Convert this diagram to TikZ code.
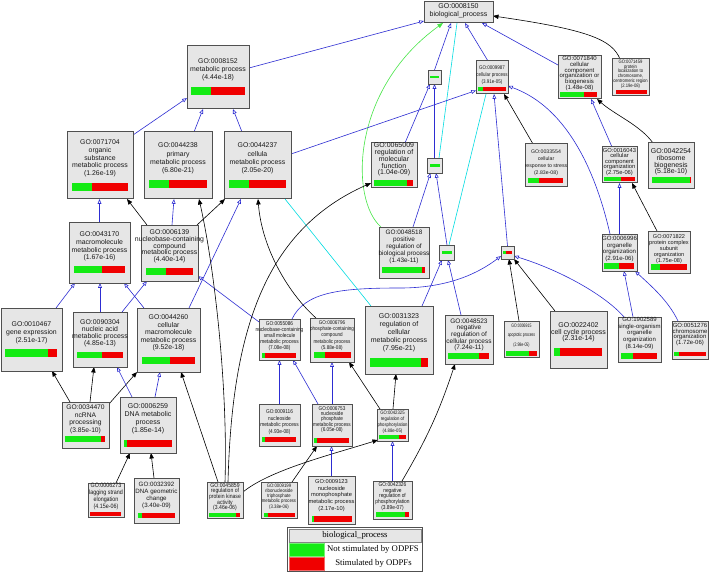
\documentclass[tikz,border=0pt]{standalone}
\usepackage{fontspec}
\setmainfont{Liberation Sans}
\newfontfamily\legfont{Liberation Serif}
\newfontfamily\narrowfont[FakeStretch=0.85]{Liberation Sans}
\newfontfamily\vnarrowfont[FakeStretch=0.7]{Liberation Sans}
\newcommand\rf[2]{\fontsize{#1}{#2}\selectfont}
\newcommand\nf[2]{\narrowfont\fontsize{#1}{#2}\selectfont}
\newcommand\vf[2]{\vnarrowfont\fontsize{#1}{#2}\selectfont}
\usetikzlibrary{arrows.meta}
\definecolor{boxfill}{RGB}{230,230,230}
\definecolor{boxline}{RGB}{80,80,80}
\definecolor{gogreen}{RGB}{20,235,20}
\definecolor{gored}{RGB}{240,0,0}
\definecolor{edgeblue}{RGB}{45,45,210}
\definecolor{edgecyan}{RGB}{0,220,225}
\definecolor{edgegreen}{RGB}{70,230,70}
\pgfdeclarelayer{background}
\pgfsetlayers{background,main}
\tikzset{
  gobox/.style={draw=boxline, fill=boxfill, line width=1pt, inner sep=0pt, outer sep=0pt},
  smallbox/.style={draw=boxline, fill=boxfill, line width=0.8pt, inner sep=0pt, outer sep=0pt},
  gotext/.style={inner sep=0pt, align=center, text=black!90},
  isa/.style={draw=edgeblue, line width=0.6pt, -{Triangle[length=4.8pt,width=3.8pt,fill=white,line width=0.6pt]}},
  blk/.style={draw=black, line width=0.6pt, -{Triangle[length=5.5pt,width=4.4pt]}},
  cya/.style={draw=edgecyan, line width=0.6pt},
  grn/.style={draw=edgegreen, line width=0.6pt, -{Triangle[length=5.5pt,width=4.4pt]}},
  legtext/.style={inner sep=0pt, font=\legfont\fontsize{8.7}{10}\selectfont, text=black}
}
% name, x1, y1, x2, y2, font, text centre y, text
\newcommand\gonode[8]{%
  \node[gobox, minimum width={(#4)-(#2)}, minimum height={(#5)-(#3)}] (#1) at ({((#2)+(#4))/2},{((#3)+(#5))/2}) {};
  \node[gotext, font={#6}] (#1-t) at ({((#2)+(#4))/2},#7) {#8};
}
\newcommand\gobar[5]{%
  \fill[gogreen] (#1,#2) rectangle ({(#1)+(#5)*((#3)-(#1))},#4);
  \fill[gored] ({(#1)+(#5)*((#3)-(#1))},#2) rectangle (#3,#4);
}
\begin{document}
\begin{tikzpicture}[x=1pt,y=-1pt]
\useasboundingbox (0,0) rectangle (709,572);
\begin{pgfonlayer}{background}
\fill[white] (0,0) rectangle (709,572);
\end{pgfonlayer}

% ---------- GO term boxes ----------
\gonode{n8150}{424}{2}{493}{23}{\rf{7}{8}}{11}{GO:0008150\\biological\_process}

\gonode{n8152}{187}{46}{249}{109}{\rf{6.9}{8}}{70}{GO:0008152\\metabolic process\\(4.44e-18)}
\gobar{191}{87}{245}{95}{0.37}

\gonode{n71704}{67}{132}{133}{199}{\rf{6.9}{7.8}}{158.5}{GO:0071704\\organic\\substance\\metabolic process\\(1.26e-19)}
\gobar{72}{183}{128}{191}{0.36}

\gonode{n44238}{144}{132}{212}{199}{\rf{6.9}{8.3}}{158.5}{GO:0044238\\primary\\metabolic process\\(6.80e-21)}
\gobar{149}{180}{207}{188}{0.34}

\gonode{n44237}{224}{132}{291}{199}{\rf{6.9}{8.3}}{158.5}{GO:0044237\\cellula\\metabolic process\\(2.05e-20)}
\gobar{229}{180}{286}{188}{0.35}

\gonode{n43170}{69}{222}{130}{283}{\rf{6.9}{7.7}}{246.5}{GO:0043170\\macromolecule\\metabolic process\\(1.67e-16)}
\gobar{74}{266}{125}{273}{0.55}

\gonode{n6139}{141}{225}{198}{281}{\rf{6.9}{6.8}}{246.5}{GO:0006139\\nucleobase-containing\\compound\\metabolic process\\(4.40e-14)}
\gobar{146}{268}{193}{275}{0.43}

\gonode{n10467}{1}{308}{62}{371}{\rf{6.9}{8}}{333}{GO:0010467\\gene expression\\(2.51e-17)}
\gobar{5}{349}{57}{357}{0.83}

\gonode{n90304}{73}{312}{127}{367}{\rf{6.9}{7}}{333.5}{GO:0090304\\nucleic acid\\metabolic process\\(4.85e-13)}
\gobar{77}{352}{123}{358}{0.54}

\gonode{n44260}{137}{308}{200}{372}{\rf{6.9}{7.5}}{333}{GO:0044260\\cellular\\macromolecule\\metabolic process\\(9.52e-18)}
\gobar{142}{357}{195}{364}{0.53}

\gonode{n55086}{259}{319}{300}{360}{\nf{5.6}{6}}{336}{GO:0055086\\nucleobase-containing\\small molecule\\metabolic process\\(7.08e-08)}
\gobar{262}{353}{296}{358}{0.09}

\gonode{n6796}{310}{318}{354}{362}{\nf{5.4}{6.2}}{335.5}{GO:0006796\\phosphate-containing\\compound\\metabolic process\\(5.88e-08)}
\gobar{314}{352}{351}{358}{0.3}

\gonode{n65009}{371}{143}{417}{188}{\rf{7}{6.8}}{159.5}{GO:0065009\\regulation of\\molecular\\function\\(1.04e-09)}
\gobar{374}{180}{413}{186}{0.85}

\gonode{n9987}{476}{61}{508}{94}{\nf{5.3}{7}}{75}{GO:0009987\\cellular process\\(3.91e-05)}
\gobar{478}{87}{506}{91}{0.18}

\gonode{n71840}{558}{56}{601}{99}{\rf{6}{5.8}}{73.5}{GO:0071840\\cellular\\component\\organization or\\biogenesis\\(1.48e-08)}
\gobar{560}{92}{597}{97}{0.65}

\gonode{n71459}{612}{59}{649}{96}{\nf{4.9}{4.8}}{74}{GO:0071459\\protein\\localization to\\chromosome,\\centromeric region\\(2.19e-08)}
\gobar{616}{90}{647}{94}{0}

\gonode{n33554}{525}{144}{567}{187}{\rf{5.2}{7}}{162.5}{GO:0033554\\cellular\\response to stress\\(2.83e-08)}
\gobar{528}{178}{563}{183}{0.31}

\gonode{n16043}{602}{147}{637}{183}{\rf{5.8}{5.5}}{162}{GO:0016043\\cellular\\component\\organization\\(2.75e-06)}
\gobar{604}{177}{635}{181}{0.55}

\gonode{n42254}{648}{143}{694}{189}{\rf{7}{6.7}}{162}{GO:0042254\\ribosome\\biogenesis\\(5.18e-10)}
\gobar{652}{177}{691}{183}{0.97}

\gonode{n48518}{379}{227}{429}{278}{\rf{6.4}{6.8}}{247}{GO:0048518\\positive\\regulation of\\biological process\\(1.43e-11)}
\gobar{382}{267}{425}{273}{0.93}

\gonode{n6996}{602}{234}{637}{271}{\rf{6.1}{6.6}}{249}{GO:0006996\\organelle\\organization\\(2.91e-06)}
\gobar{604}{263}{634}{269}{0.5}

\gonode{n71822}{648}{231}{690}{273}{\rf{5.6}{6}}{249}{GO:0071822\\protein complex\\subunit\\organization\\(1.75e-08)}
\gobar{651}{264}{687}{270}{0.25}

\gonode{n31323}{365}{306}{433}{374}{\rf{7}{8}}{333}{GO:0031323\\regulation of\\cellular\\metabolic process\\(7.95e-21)}
\gobar{370}{358}{428}{367}{0.88}

\gonode{n48523}{445}{315}{493}{364}{\rf{6.5}{6.6}}{335}{GO:0048523\\negative\\regulation of\\cellular process\\(7.24e-11)}
\gobar{448}{353}{489}{359}{0.76}

\gonode{n6915}{504}{321}{539}{357}{\vf{5}{9.5}}{335.5}{GO:0006915\\apoptotic process\\(2.98e-05)}
\gobar{506}{351}{537}{356}{0.74}

\gonode{n22402}{550}{311}{607}{368}{\rf{7}{6.7}}{332.5}{GO:0022402\\cell cycle process\\(2.31e-14)}
\gobar{554}{348}{602}{356}{0.12}

\gonode{n1902589}{618}{317}{661}{362}{\rf{6}{6.7}}{333.5}{GO:1902589\\single-organism\\organelle\\organization\\(8.14e-09)}
\gobar{621}{353}{657}{359}{0.33}

\gonode{n51276}{672}{321}{708}{359}{\rf{6}{5.7}}{334.5}{GO:0051276\\chromosome\\organization\\(1.72e-06)}
\gobar{674}{352}{706}{356}{0.15}

\gonode{n34470}{62}{402}{109}{448}{\rf{6.7}{7.6}}{419.5}{GO:0034470\\ncRNA\\processing\\(3.85e-10)}
\gobar{65}{436}{105}{442}{0.9}

\gonode{n6259}{120}{397}{176}{453}{\rf{7}{8}}{419}{GO:0006259\\DNA metabolic\\process\\(1.85e-14)}
\gobar{124}{440}{172}{447}{0.06}

\gonode{n6273}{88}{483}{124}{517}{\nf{6.3}{7}}{496.5}{GO:0006273\\lagging strand\\elongation\\(4.15e-06)}
\gobar{90}{512}{121}{516}{0}

\gonode{n32392}{134}{478}{179}{523}{\rf{6.2}{7}}{495.5}{GO:0032392\\DNA geometric\\change\\(3.40e-09)}
\gobar{138}{513}{175}{518}{0.1}

\gonode{n45859}{207}{482}{243}{518}{\nf{6}{5.6}}{497}{GO:0045859\\regulation of\\protein kinase\\activity\\(3.46e-06)}
\gobar{209}{513}{240}{517}{0.87}

\gonode{n9116}{259}{404}{300}{446}{\nf{5.6}{6.7}}{422}{GO:0009116\\nucleoside\\metabolic process\\(4.93e-08)}
\gobar{262}{437}{296}{442}{0.1}

\gonode{n6753}{312}{404}{352}{446}{\nf{5.5}{5.3}}{419.5}{GO:0006753\\nucleoside\\phosphate\\metabolic process\\(6.05e-08)}
\gobar{314}{438}{349}{443}{0.08}

\gonode{n9199}{261}{482}{297}{518}{\nf{5}{5.2}}{496.5}{GO:0009199\\ribonucleoside\\triphosphate\\metabolic process\\(3.38e-06)}
\gobar{264}{513}{295}{517}{0.13}

\gonode{n9123}{308}{476}{355}{524}{\rf{5.7}{6.8}}{495.5}{GO:0009123\\nucleoside\\monophosphate\\metabolic process\\(2.17e-10)}
\gobar{312}{516}{352}{522}{0.05}

\gonode{n42325}{377}{409}{408}{441}{\nf{5}{6}}{422}{GO:0042325\\regulation of\\phosphorylation\\(4.88e-05)}
\gobar{379}{435}{406}{439}{0.74}

\gonode{n42326}{373}{481}{412}{519}{\nf{5.7}{5.7}}{496.5}{GO:0042326\\negative\\regulation of\\phosphorylation\\(3.89e-07)}
\gobar{376}{512}{409}{517}{0.88}

% ---------- small unlabelled boxes ----------
\node[smallbox, minimum width=13, minimum height=14] (s1) at (434.5,77) {};
\fill[gogreen] (430,76) rectangle (439,78.3);
\node[smallbox, minimum width=15, minimum height=15] (s2) at (434.5,165.5) {};
\fill[gogreen] (429.5,164.4) rectangle (439.5,166.7);
\node[smallbox, minimum width=15, minimum height=15] (s3) at (446.5,252.5) {};
\fill[gogreen] (441.5,251.4) rectangle (451.5,253.7);
\node[smallbox, minimum width=13, minimum height=13] (s4) at (507.5,252.5) {};
\fill[gogreen] (503,251.4) rectangle (505.5,253.7);
\fill[gored] (505.5,251.4) rectangle (512,253.7);

% ---------- legend ----------
\node[draw=boxline, line width=0.8pt, fill=white, minimum width=135, minimum height=44.5, inner sep=0pt] (leg) at (354.5,549.25) {};
\node[draw=boxline!70, line width=0.7pt, fill=boxfill, minimum width=132, minimum height=13, inner sep=0pt] (leg-h) at (355,535.5) {};
\node[legtext] (leg-ht) at (355,535.5) {biological\_process};
\node[fill=gogreen, draw=gogreen!60, line width=0.4pt, minimum width=35, minimum height=13, inner sep=0pt] (leg-g) at (306.5,549.5) {};
\node[fill=gored, draw=gored!60, line width=0.4pt, minimum width=35, minimum height=13, inner sep=0pt] (leg-r) at (306.5,563.5) {};
\node[legtext] (leg-gt) at (373,549) {Not stimulated by ODPFS};
\node[legtext] (leg-rt) at (373.5,563) {Stimulated by ODPFs};

% ---------- connectors ----------
\begin{pgfonlayer}{background}
% into GO:0008150
\draw[isa] ([yshift=9.5pt]n8152.east) -- ([yshift=-8.5pt]n8150.west);
\draw[isa] (s1.north) -- ([xshift=-7.5pt]n8150.south);
\draw[isa] ([xshift=-4pt]n9987.north) -- ([xshift=6.5pt]n8150.south);
\draw[isa] ([yshift=12.5pt]n71840.west) -- ([xshift=23.5pt]n8150.south);
\draw[blk] ([xshift=-10.5pt]n71459.north) .. controls (612,40) and (590,30) .. ([yshift=-3.5pt]n8150.east);
\draw[grn] ([xshift=-23pt]n48518.north) .. controls (350,200) and (350,90) .. ([xshift=-15.5pt]n8150.south);
\draw[cya] ([xshift=-1.5pt]n8150.south) -- ([xshift=4.5pt]s2.north);
% into GO:0008152
\draw[isa] ([yshift=-3pt]n71704.north east) -- ([yshift=-20.5pt]n8152.west);
\draw[isa] ([xshift=16pt]n44238.north) -- ([xshift=-15pt]n8152.south);
\draw[isa] ([xshift=-15.5pt]n44237.north) -- ([xshift=15pt]n8152.south);
% into GO:0009987
\draw[isa] ([yshift=11.5pt]n44237.east) -- ([yshift=-13pt]n9987.west);
\draw[blk] ([xshift=-13pt]n33554.north) -- ([xshift=12pt]n9987.south);
\draw[isa] ([xshift=-9.5pt]n6996.north) .. controls (600,190) and (575,110) .. ([yshift=-8.5pt]n9987.east);
\draw[isa] (s4.north) -- ([xshift=2pt]n9987.south);
\draw[cya] ([xshift=-6pt]n9987.south) -- ([xshift=2.5pt]s3.north);
% GO:0071840 / 0016043 / 0006996
\draw[isa] ([xshift=-7.5pt]n16043.north) -- ([xshift=11.5pt]n71840.south);
\draw[blk] ([xshift=-18pt]n42254.north) .. controls (640,125) and (615,115) .. ([xshift=17.5pt]n71840.south);
\draw[isa] (n6996.north) -- (n16043.south);
\draw[blk] ([xshift=-12pt]n71822.north) -- ([xshift=12.5pt]n16043.south);
\draw[isa] ([xshift=-6.5pt]n1902589.north) -- ([xshift=4.5pt]n6996.south);
\draw[isa] ([xshift=-12pt]n51276.north) .. controls (668,300) and (650,285) .. ([xshift=15.5pt]n6996.south);
% into small box s4
\draw[isa] ([xshift=12.5pt]n55086.north) .. controls (305,292) and (340,288) .. (400,288) .. controls (450,288) and (480,272) .. ([yshift=-3.5pt]s4.west);
\draw[blk] ([xshift=-2.5pt]n6915.north) -- ([xshift=1.5pt]s4.south);
\draw[blk] ([xshift=-23.5pt]n22402.north) -- (s4.south east);
\draw[isa] ([xshift=-15.5pt]n1902589.north) .. controls (605,295) and (560,270) .. ([yshift=-3.5pt]s4.east);
% small boxes s1, s2, s3
\draw[isa] ([xshift=11pt]n65009.north) -- ([xshift=-4.5pt]s1.south);
\draw[isa] (s2.north) -- (s1.south);
\draw[isa] ([xshift=9pt]n48518.north) -- ([xshift=-4pt]s2.south);
\draw[isa] ([xshift=0.5pt]s3.north) -- ([xshift=1.5pt]s2.south);
\draw[isa] ([xshift=23pt]n31323.north) -- ([xshift=-4.5pt]s3.south);
\draw[isa] ([xshift=-8pt]n48523.north) -- ([xshift=1.5pt]s3.south);
% left part
\draw[cya] ([xshift=27.5pt]n44237.south) -- ([xshift=-28pt]n31323.north);
\draw[blk] ([xshift=-1pt]n6139.north east) -- ([xshift=1pt]n44237.south west);
\draw[blk] ([xshift=-22.5pt]n6139.north) -- ([xshift=27pt]n71704.south);
\draw[isa] ([xshift=2.5pt]n6139.north) -- ([xshift=-4pt]n44238.south);
\draw[isa] (n43170.north) -- (n43170.north |- n71704.south);
\draw[isa] ([xshift=24.5pt]n10467.north) -- ([xshift=-24.5pt]n43170.south);
\draw[isa] (n90304.north) -- (n90304.north |- n43170.south);
\draw[isa] ([xshift=-24.5pt]n44260.north) -- ([xshift=24.5pt]n43170.south);
\draw[isa] ([xshift=22pt]n90304.north) -- ([xshift=-22.5pt]n6139.south);
\draw[isa] ([xshift=20.5pt]n44260.north) -- ([xshift=-16.5pt]n44237.south);
\draw[isa] ([yshift=17.5pt]n55086.west) -- ([yshift=-23pt]n6139.east);
\draw[blk] ([xshift=-16pt]n6796.north) .. controls (290,295) and (262,250) .. ([xshift=0.5pt]n44237.south);
% from GO:0045859
\draw[blk] ([xshift=-7pt]n45859.north) -- ([xshift=12.5pt]n44260.south);
\draw[blk] (n45859.north) .. controls (228,390) and (215,270) .. ([xshift=21pt]n44238.south);
\draw[blk] ([xshift=3pt]n45859.north) .. controls (232,330) and (265,230) .. ([yshift=-17.5pt]n65009.west);
\draw[blk] ([yshift=8pt]n45859.east) .. controls (270,470) and (330,455) .. ([xshift=1pt,yshift=1pt]n42325.south west);
% bottom left
\draw[blk] ([xshift=-15.5pt]n34470.north) -- ([xshift=20.5pt]n10467.south);
\draw[blk] ([xshift=4.5pt]n34470.north) -- ([xshift=-6pt]n90304.south);
\draw[blk] ([yshift=-2pt]n34470.north east) -- (n44260.south west);
\draw[isa] ([xshift=-16pt]n6259.north) -- ([xshift=17pt]n90304.south);
\draw[isa] ([xshift=7pt]n6259.north) -- ([xshift=-8.5pt]n44260.south);
\draw[blk] ([xshift=10pt]n6273.north) -- ([xshift=-18pt]n6259.south);
\draw[blk] ([xshift=-2.5pt]n32392.north) -- ([xshift=3pt]n6259.south);
% nucleoside group and phosphorylation
\draw[isa] (n9116.north) -- (n55086.south);
\draw[isa] ([xshift=-14pt]n6753.north) -- ([xshift=13.5pt]n55086.south);
\draw[isa] (n6753.north) -- (n6796.south);
\draw[blk] ([xshift=13pt]n9199.north) -- ([xshift=-15pt]n6753.south);
\draw[isa] (n9123.north) -- (n9123.north |- n6753.south);
\draw[blk] ([xshift=-12.5pt]n42325.north) -- ([xshift=17pt]n6796.south);
\draw[blk] ([xshift=0.5pt]n42325.north) -- ([xshift=-3pt]n31323.south);
\draw[isa] (n42326.north) -- (n42325.south);
\draw[blk] ([xshift=9.5pt]n42326.north) to[bend right=6] ([xshift=-14pt]n48523.south);
\end{pgfonlayer}
\end{tikzpicture}
\end{document}
